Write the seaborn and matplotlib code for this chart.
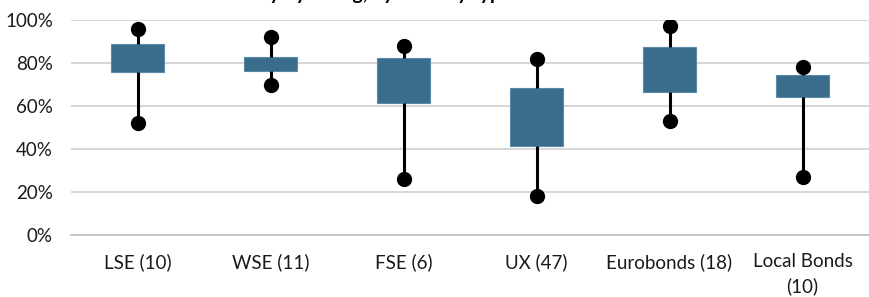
import matplotlib
matplotlib.use("Agg")
import matplotlib.pyplot as plt
import matplotlib.ticker as mticker
import numpy as np
import pandas as pd
import seaborn as sns

# data (percent)
categories = ["LSE (10)", "WSE (11)", "FSE (6)", "UX (47)", "Eurobonds (18)", "Local Bonds\n(10)"]
low_vals = [52, 70, 26, 18, 53, 27]
q1_vals = [76, 76.5, 61.5, 41.5, 66.5, 64]
q3_vals = [89, 83, 82.5, 68.5, 87.5, 74.5]
high_vals = [96, 92, 88, 82, 97, 78]

box_color = "#3a6d8c"

# long table: 5 points per group so the quartiles land exactly on q1/q3
rows = []
for c, lo, a, b, hi in zip(categories, low_vals, q1_vals, q3_vals, high_vals):
    for v in [lo, a, a, b, hi]:
        rows.append({"group": c, "value": v})
df = pd.DataFrame(rows)

ends = pd.DataFrame({"group": categories * 2, "value": low_vals + high_vals})

sns.set_theme(style="white")
plt.rcParams["font.family"] = ["Lato", "DejaVu Sans"]

fig = plt.figure(figsize=(8.69, 2.97), dpi=100)
ax = fig.add_axes([71 / 869, 1 - 235 / 297, 1 - 71 / 869, (235 - 20) / 297])

sns.boxplot(data=df, x="group", y="value", order=categories, whis=(0, 100),
            width=0.4, color=box_color, saturation=1, ax=ax, zorder=3,
            boxprops=dict(facecolor=box_color, edgecolor="#5a8aa8", linewidth=0.8),
            whiskerprops=dict(color="black", linewidth=2.2),
            capprops=dict(visible=False),
            medianprops=dict(visible=False),
            showfliers=False)

# min / max markers
sns.stripplot(data=ends, x="group", y="value", order=categories, jitter=False,
              color="black", size=11, ax=ax, zorder=4)

ax.set_ylim(0, 100)
ax.set_xlim(-0.5, len(categories) - 0.5)
ax.set_yticks([0, 20, 40, 60, 80, 100])
ax.yaxis.set_major_formatter(mticker.FuncFormatter(lambda v, p: f"{v:.0f}%"))
ax.grid(axis="y", color="#d0d0d0", linewidth=1.2, zorder=0)
ax.set_axisbelow(True)
ax.set_xlabel("")
ax.set_ylabel("")

for s in ["top", "right", "left"]:
    ax.spines[s].set_visible(False)
ax.spines["bottom"].set_color("#bfbfbf")
ax.spines["bottom"].set_linewidth(1.2)

ax.tick_params(axis="x", which="major", length=0, pad=13, labelsize=13.5, colors="#1a1a1a")
ax.tick_params(axis="y", length=0, pad=13, labelsize=13.5, colors="#1a1a1a")
for lab in ax.get_xticklabels():
    lab.set_linespacing(1.45)
ax.set_xticks(np.arange(-0.5, len(categories) + 0.5, 1), minor=True)
ax.tick_params(axis="x", which="minor", length=5, width=1, color="#bfbfbf", direction="out")

# title sits above the visible area, only its descenders show
fig.text(0.228, 1.0, "Recovery by listing, by security type",
         ha="left", va="baseline", fontsize=14, fontweight="bold", color="black")

fig.savefig("out.png", dpi=100)
